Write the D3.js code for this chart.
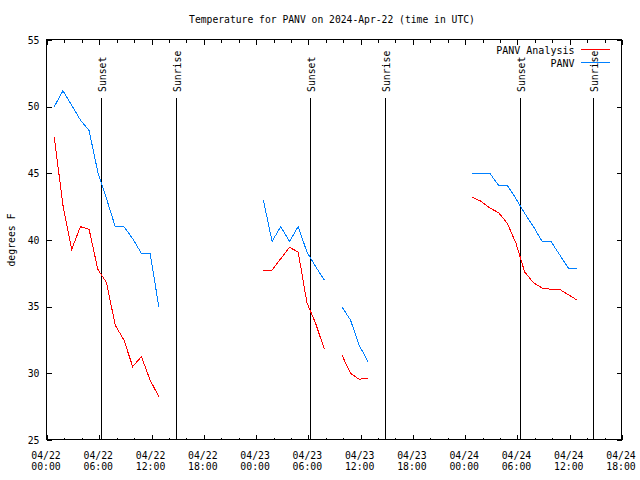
<!DOCTYPE html>
<html>
<head>
<meta charset="utf-8">
<script src="https://cdn.jsdelivr.net/npm/d3@7/dist/d3.min.js"></script>
<style>
  html, body { margin: 0; padding: 0; background: #fff; }
  svg { display: block; }
  text { font-family: "DejaVu Sans Mono", monospace; fill: #000; }
</style>
</head>
<body>
<svg id="chart" width="640" height="480"></svg>
<script>
// ---------- data ----------
const times = [
  "2024-04-22T00:50Z","2024-04-22T01:50Z","2024-04-22T02:50Z","2024-04-22T03:50Z","2024-04-22T04:50Z",
  "2024-04-22T05:50Z","2024-04-22T06:50Z","2024-04-22T07:50Z","2024-04-22T08:50Z","2024-04-22T09:50Z",
  "2024-04-22T10:50Z","2024-04-22T11:50Z","2024-04-22T12:50Z",
  "2024-04-22T13:50Z",
  "2024-04-23T00:50Z","2024-04-23T01:50Z","2024-04-23T02:50Z","2024-04-23T03:50Z","2024-04-23T04:50Z",
  "2024-04-23T05:50Z","2024-04-23T06:50Z","2024-04-23T07:50Z",
  "2024-04-23T08:50Z",
  "2024-04-23T09:50Z","2024-04-23T10:50Z","2024-04-23T11:50Z","2024-04-23T12:50Z",
  "2024-04-23T13:50Z",
  "2024-04-24T00:50Z","2024-04-24T01:50Z","2024-04-24T02:50Z","2024-04-24T03:50Z","2024-04-24T04:50Z",
  "2024-04-24T05:50Z","2024-04-24T06:50Z","2024-04-24T07:50Z","2024-04-24T08:50Z","2024-04-24T09:50Z",
  "2024-04-24T10:50Z","2024-04-24T11:50Z","2024-04-24T12:50Z"
];
// PANV (observed), blue
const panv = [
  50.0, 51.2, 50.1, 49.0, 48.2, 45.1, 43.1, 41.0, 41.0, 40.1, 39.0, 39.0, 35.0,
  null,
  43.0, 39.9, 41.0, 39.9, 41.0, 39.1, 38.0, 37.0,
  null,
  35.0, 34.0, 32.1, 30.9,
  null,
  45.0, 45.0, 45.0, 44.1, 44.1, 43.1, 42.0, 41.0, 39.9, 39.9, 38.9, 37.9, 37.9
];
// PANV Analysis, red
const panvAnalysis = [
  47.7, 42.6, 39.3, 41.0, 40.8, 37.8, 36.8, 33.6, 32.5, 30.5, 31.25, 29.5, 28.25,
  null,
  37.7, 37.75, 38.6, 39.45, 39.1, 35.3, 33.75, 31.8,
  null,
  31.4, 30.0, 29.55, 29.65,
  null,
  43.2, 42.9, 42.4, 42.05, 41.25, 39.75, 37.6, 36.8, 36.4, 36.3, 36.3, 35.9, 35.5
];
const sunLabels = ["Sunset", "Sunrise", "Sunset", "Sunrise", "Sunset", "Sunrise"];
const sunTimes = [
  "2024-04-22T06:14Z", "2024-04-22T14:48Z",
  "2024-04-23T06:13Z", "2024-04-23T14:50Z",
  "2024-04-24T06:20Z", "2024-04-24T14:42Z"
];
const xDomain = ["2024-04-22T00:00Z", "2024-04-24T18:00Z"];
const yDomain = [25, 55];
const yTicks = [25, 30, 35, 40, 45, 50, 55];
const xMajorTicks = [
  "2024-04-22T00:00Z","2024-04-22T06:00Z","2024-04-22T12:00Z","2024-04-22T18:00Z",
  "2024-04-23T00:00Z","2024-04-23T06:00Z","2024-04-23T12:00Z","2024-04-23T18:00Z",
  "2024-04-24T00:00Z","2024-04-24T06:00Z","2024-04-24T12:00Z","2024-04-24T18:00Z"
];
const seriesNames = ["PANV Analysis", "PANV"];
const titleText = "Temperature for PANV on 2024-Apr-22 (time in UTC)";
const yLabelText = "degrees F";

// ---------- layout ----------
const W = 640, H = 480;
const L = 47, R = 622, T = 40, B = 440;
const svg = d3.select("#chart");

const x = d3.scaleUtc().domain(xDomain.map(d => new Date(d))).range([L, R]);
const y = d3.scaleLinear().domain(yDomain).range([B, T]);

const fmtDate = d3.utcFormat("%m/%d");
const fmtTime = d3.utcFormat("%H:%M");

// title
svg.append("text")
  .attr("x", 332).attr("y", 23)
  .attr("text-anchor", "middle")
  .style("font-size", "9.7px")
  .text(titleText);

// y axis label
svg.append("text")
  .attr("transform", "translate(14.5,240) rotate(-90)")
  .attr("text-anchor", "middle")
  .style("font-size", "9.8px")
  .text(yLabelText);

// axes: ticks via d3 axes (inward)
const majorT = xMajorTicks.map(d => new Date(d));
const minorT = x.ticks(d3.utcHour.every(2)).filter(t => t.getUTCHours() % 6 !== 0);

const axG = svg.append("g").attr("shape-rendering", "crispEdges");

function styleAxis(g) {
  g.select(".domain").remove();
  g.selectAll("line").attr("stroke", "#000");
  g.selectAll("text").remove();
}
// bottom major
axG.append("g").attr("transform", `translate(0,${B})`)
  .call(d3.axisTop(x).tickValues(majorT).tickSize(5)).call(styleAxis);
axG.append("g").attr("transform", `translate(0,${B})`)
  .call(d3.axisTop(x).tickValues(minorT).tickSize(2.5)).call(styleAxis);
// top mirror
axG.append("g").attr("transform", `translate(0,${T})`)
  .call(d3.axisBottom(x).tickValues(majorT).tickSize(5)).call(styleAxis);
axG.append("g").attr("transform", `translate(0,${T})`)
  .call(d3.axisBottom(x).tickValues(minorT).tickSize(2.5)).call(styleAxis);
// left / right
axG.append("g").attr("transform", `translate(${L},0)`)
  .call(d3.axisRight(y).tickValues(yTicks).tickSize(5)).call(styleAxis);
axG.append("g").attr("transform", `translate(${R},0)`)
  .call(d3.axisLeft(y).tickValues(yTicks).tickSize(5)).call(styleAxis);

// y tick labels
svg.append("g").selectAll("text").data(yTicks).join("text")
  .attr("x", L - 7.5).attr("y", d => y(d) + 3.6)
  .attr("text-anchor", "end")
  .style("font-size", "9.8px")
  .text(d => d);

// x tick labels (two lines)
const xl = svg.append("g").selectAll("g").data(majorT).join("g")
  .attr("transform", d => `translate(${x(d) - 1},0)`);
xl.append("text").attr("y", 458.5).attr("text-anchor", "middle")
  .style("font-size", "9.8px").text(d => fmtDate(d));
xl.append("text").attr("y", 469.5).attr("text-anchor", "middle")
  .style("font-size", "9.8px").text(d => fmtTime(d));

// sunrise / sunset lines
const sun = svg.append("g");
sunTimes.forEach((t, i) => {
  const sx = Math.round(x(new Date(t))) + 0.5;
  sun.append("line")
    .attr("x1", sx).attr("x2", sx).attr("y1", 98).attr("y2", B)
    .attr("stroke", "#000").attr("stroke-width", 1)
    .attr("shape-rendering", "crispEdges");
  sun.append("text")
    .attr("transform", `translate(${sx + 4.5},92) rotate(-90)`)
    .attr("text-anchor", "start")
    .style("font-size", "9.8px")
    .text(sunLabels[i]);
});

// series lines
const pts = (vals) => times.map((t, i) => ({ t: new Date(t), v: vals[i] }));
const line = d3.line().defined(d => d.v !== null).x(d => x(d.t)).y(d => y(d.v));
const colors = ["#ff0000", "#0080ff"];
const seriesVals = [panvAnalysis, panv];

seriesVals.forEach((vals, i) => {
  svg.append("path")
    .datum(pts(vals))
    .attr("fill", "none")
    .attr("stroke", colors[i])
    .attr("stroke-width", 1)
    .attr("shape-rendering", "crispEdges")
    .attr("d", line);
});

// border
svg.append("rect")
  .attr("x", L - 0.5).attr("y", T - 0.5)
  .attr("width", R - L).attr("height", B - T)
  .attr("fill", "none").attr("stroke", "#000").attr("stroke-width", 1)
  .attr("shape-rendering", "crispEdges");

// legend
const lg = svg.append("g");
seriesNames.forEach((name, i) => {
  const ly = 49 + i * 13;
  lg.append("text")
    .attr("x", 574.5).attr("y", ly + 4.5)
    .attr("text-anchor", "end")
    .style("font-size", "10px")
    .text(name);
  lg.append("line")
    .attr("x1", 581).attr("x2", 610).attr("y1", ly + 0.5).attr("y2", ly + 0.5)
    .attr("stroke", colors[i]).attr("stroke-width", 1)
    .attr("shape-rendering", "crispEdges");
});
</script>
</body>
</html>
